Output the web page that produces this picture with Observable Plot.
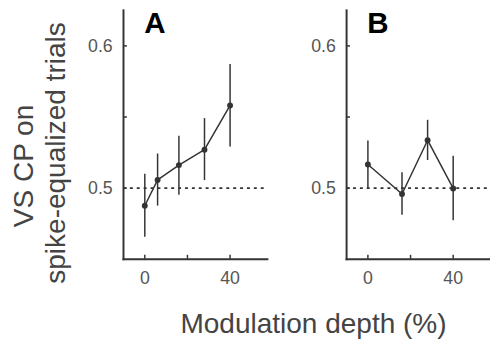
<!DOCTYPE html>
<html><head><meta charset="utf-8">
<script src="https://cdn.jsdelivr.net/npm/d3@7"></script>
<script src="https://cdn.jsdelivr.net/npm/@observablehq/plot@0.6"></script>
<style>
html,body{margin:0;padding:0;background:#fff;overflow:hidden}
#wrap{position:relative;width:490px;height:342px;overflow:hidden}
#wrap svg{display:block}
#titles{position:absolute;left:0;top:0}
</style></head><body>
<div id="wrap"></div>
<script>
const panels = ["A", "B"];
const depthA = [0, 6, 16, 28, 40];
const cpA = [0.4876, 0.5058, 0.5162, 0.527, 0.5581];
const loA = [0.4654, 0.4874, 0.495, 0.5053, 0.529];
const hiA = [0.5097, 0.524, 0.5365, 0.5489, 0.587];
const depthB = [0, 16, 28, 40];
const cpB = [0.5166, 0.4959, 0.5337, 0.4998];
const loB = [0.4998, 0.4809, 0.5194, 0.477];
const hiB = [0.5332, 0.5109, 0.5477, 0.5224];
const chance = [0.5];
const xTicks = [0, 20, 40];
const xLabels = [0, 40];
const yTicks = [0.5, 0.55, 0.6];
const yLabels = [0.5, 0.6];
const yTitle = ["VS CP on", "spike-equalized trials"];
const xTitle = "Modulation depth (%)";

const rows = [
  ...depthA.map((d, i) => ({panel: "A", depth: d, cp: cpA[i], lo: loA[i], hi: hiA[i]})),
  ...depthB.map((d, i) => ({panel: "B", depth: d, cp: cpB[i], lo: loB[i], hi: hiB[i]}))
];

const font = "'Liberation Sans', Arial, Helvetica, sans-serif";
const ink = "#333";

const chart = Plot.plot({
  width: 498,
  height: 342,
  marginLeft: 125,
  marginRight: 0,
  marginTop: 10,
  marginBottom: 79,
  style: {fontFamily: font, background: "white", overflow: "visible"},
  fx: {domain: panels, paddingInner: 0.355, paddingOuter: 0, round: false, axis: null},
  x: {domain: [-10, 57.5]},
  y: {domain: [0.45, 0.625]},
  marks: [
    Plot.ruleY(chance, {stroke: ink, strokeWidth: 1.6, strokeDasharray: "3,4"}),
    Plot.frame({anchor: "left", stroke: ink, strokeWidth: 2}),
    Plot.frame({anchor: "bottom", stroke: ink, strokeWidth: 2}),
    Plot.axisX({ticks: xTicks, tickSize: -4, text: null, label: null, stroke: ink, strokeWidth: 1.5, facetAnchor: null}),
    Plot.axisX({ticks: xLabels, tickSize: 0, tickPadding: 12, tickFormat: d3.format("d"), fontSize: 18, fill: "#555", facetAnchor: null, label: null}),
    Plot.axisY({ticks: yTicks, tickSize: -4, text: null, label: null, stroke: ink, strokeWidth: 1.5, facetAnchor: null}),
    Plot.axisY({ticks: yLabels, tickSize: 0, tickPadding: 11, tickFormat: d3.format(".1f"), fontSize: 18, fill: "#555", facetAnchor: null, label: null}),
    Plot.ruleX(rows, {fx: "panel", x: "depth", y1: "lo", y2: "hi", stroke: ink, strokeWidth: 1.5}),
    Plot.line(rows, {fx: "panel", x: "depth", y: "cp", stroke: ink, strokeWidth: 1.5}),
    Plot.dot(rows, {fx: "panel", x: "depth", y: "cp", r: 3, fill: ink, stroke: "none"}),
    Plot.text(panels, {fx: d => d, text: d => d, frameAnchor: "top-left", lineAnchor: "top", textAnchor: "start", dx: 21, dy: 2, fontSize: 30, fontWeight: "bold", fill: "#000"})
  ]
});

const wrap = document.getElementById("wrap");
wrap.appendChild(chart);

const svg = d3.select(wrap).append("svg")
  .attr("id", "titles").attr("width", 490).attr("height", 342)
  .style("font-family", font);
const yPos = [{x: 33, y: 166}, {x: 65, y: 153}];
svg.selectAll("text.yt").data(yTitle).join("text")
  .attr("class", "yt")
  .attr("transform", (d, i) => `translate(${yPos[i].x},${yPos[i].y}) rotate(-90)`)
  .attr("text-anchor", "middle")
  .attr("font-size", 28)
  .attr("fill", "#444")
  .text(d => d);
svg.append("text")
  .attr("x", 313.5).attr("y", 333)
  .attr("text-anchor", "middle")
  .attr("font-size", 28)
  .attr("fill", "#444")
  .text(xTitle);
</script>
</body></html>
